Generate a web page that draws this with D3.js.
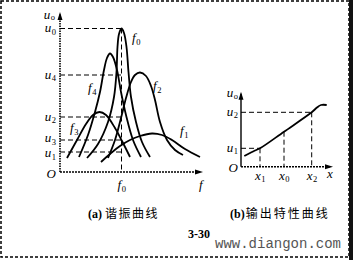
<!DOCTYPE html>
<html>
<head>
<meta charset="utf-8">
<script src="https://cdn.jsdelivr.net/npm/d3@7"></script>
<style>
body { margin:0; background:#fff; }
svg { display:block; }
.lab { font-family:"Liberation Serif", serif; font-style:italic; font-size:13px; }
.sub { font-style:normal; font-size:8.5px; }
</style>
</head>
<body>
<div id="chart"></div>
<script>
//data (units: left chart f / u, right chart x / u)
var uLevelsA = [{name:"0", v:143.5}, {name:"4", v:97}, {name:"2", v:55}, {name:"3", v:32}, {name:"1", v:20}];
var f0Pos = 61.5;
var curveF0 = [[27,14],[38,28],[48,50],[54,75],[56.5,100],[57.5,125],[59,138],[61.5,143.5],[64,139],[66.5,125],[68.5,100],[71,75],[76,50],[82,30],[90,15]];
var curveF4 = [[19,15],[28,37],[35,60],[40,80],[44,102],[47,114],[50,118.5],[53,115],[57,102],[61,80],[66,57],[73,32],[81,15]];
var curveF3 = [[7,14],[17,32],[26,48],[33,57],[39.5,60],[46,57],[55,44],[62,31],[70,15]];
var curveF2 = [[48,14],[55,32],[61,54],[66,74],[71,90],[75,97],[80,99.5],[86,96],[91,86],[95,72],[100,50],[107,32],[115,22],[123,17]];
var curveF1 = [[41,10],[50,18],[60,26],[70,32],[80,36],[92,38.5],[102,37],[112,32],[125,23],[140,15]];
var curveLabels = [{n:"0", x:72, y:130}, {n:"4", x:28, y:80}, {n:"2", x:93, y:82}, {n:"3", x:10, y:40}, {n:"1", x:120, y:37}];

var xTicksB = [{name:"1", v:19}, {name:"0", v:43}, {name:"2", v:70.7}];
var uLevelsB = [{name:"2", v:54.4}, {name:"1", v:18.4}];
var curveOut = [[3.3,10.7],[9,13.7],[14,16.2],[19,18.4],[43,35],[70.7,54.4],[76,59.2],[80,61.7],[85.7,61.7]];

var W = 353, H = 260;
var svg = d3.select("#chart").append("svg").attr("width", W).attr("height", H);

//frame
svg.append("rect").attr("x",1).attr("y",1).attr("width",348).attr("height",256)
    .attr("fill","none").attr("stroke","#000").attr("stroke-width",1.5).attr("stroke-dasharray","3,2");
svg.append("rect").attr("x",349).attr("y",0).attr("width",4).attr("height",H).attr("fill","#111");

//label with subscript
function label(g, x, y, main, sub, anchor, sdy){
    var t = g.append("text").attr("class","lab").attr("x",x).attr("y",y).attr("text-anchor",anchor || "start");
    t.append("tspan").text(main);
    t.append("tspan").attr("class","sub").attr("dx",0.5).attr("dy",sdy == null ? 2.5 : sdy).text(sub);
    return t;
}
function arrowUp(g, x, y){
    g.append("path").attr("d","M"+x+","+y+"l-2.5,8l5,0z").attr("fill","#000");
}
function arrowRight(g, x, y){
    g.append("path").attr("d","M"+x+","+y+"l-8,-2.5l0,5z").attr("fill","#000");
}

// ---------- (a) resonance curves ----------
var xA = d3.scaleLinear().domain([0,143]).range([60,203]);
var yA = d3.scaleLinear().domain([0,160]).range([172,12]);
var gA = svg.append("g");

//dashed guides
gA.selectAll(".hA").data(uLevelsA).enter().append("line")
    .attr("x1", xA(0)).attr("x2", xA(f0Pos))
    .attr("y1", d=>yA(d.v)).attr("y2", d=>yA(d.v))
    .attr("stroke","#000").attr("stroke-width",1).attr("stroke-dasharray","5,3");
gA.append("line").attr("x1", xA(f0Pos)).attr("x2", xA(f0Pos))
    .attr("y1", yA(143.5)).attr("y2", yA(0))
    .attr("stroke","#000").attr("stroke-width",1).attr("stroke-dasharray","5,3");

//axes
gA.append("line").attr("x1",xA(0)).attr("x2",xA(0)).attr("y1",yA(0)).attr("y2",yA(158))
    .attr("stroke","#000").attr("stroke-width",1.6).attr("stroke-dasharray","1.5,1");
gA.append("line").attr("x1",xA(0)).attr("x2",xA(141)).attr("y1",yA(0)).attr("y2",yA(0))
    .attr("stroke","#000").attr("stroke-width",1.4).attr("stroke-dasharray","2,1");
arrowUp(gA, xA(0), yA(160));
arrowRight(gA, xA(143), yA(0));

var lineA = d3.line().x(d=>xA(d[0])).y(d=>yA(d[1])).curve(d3.curveCatmullRom.alpha(0.5));
[curveF0, curveF4, curveF3, curveF2, curveF1].forEach(c => {
    gA.append("path").attr("d", lineA(c)).attr("fill","none").attr("stroke","#000").attr("stroke-width",1.8);
});

//labels (u3 nudged up, u1 nudged down a touch so they do not collide)
var nudge = {"3": -1.5, "1": 1.5};
uLevelsA.forEach(d => label(gA, xA(0)-4, yA(d.v)+3.5+(nudge[d.name]||0), "u", d.name, "end"));
label(gA, xA(0)-5, yA(157)+3.5, "u", "o", "end", 1.5);
gA.append("text").attr("class","lab").attr("x",xA(0)-4).attr("y",yA(0)+6).attr("text-anchor","end").text("O");
label(gA, xA(f0Pos)-4, yA(0)+17, "f", "0");
gA.append("text").attr("class","lab").attr("x",xA(139)).attr("y",yA(0)+17).text("f");
curveLabels.forEach(d => label(gA, xA(d.x), yA(d.y), "f", d.n));

// ---------- (b) output characteristic ----------
var xB = d3.scaleLinear().domain([0,92]).range([241,333]);
var yB = d3.scaleLinear().domain([0,75]).range([166.7,91.7]);
var gB = svg.append("g");

gB.selectAll(".hB").data(uLevelsB).enter().append("line")
    .attr("x1", xB(0)).attr("x2", (d,i)=>xB(xTicksB[i===0 ? 2 : 0].v))
    .attr("y1", d=>yB(d.v)).attr("y2", d=>yB(d.v))
    .attr("stroke","#000").attr("stroke-width",1).attr("stroke-dasharray","5,3");
var vTops = [18.4, 35, 54.4];
gB.selectAll(".vB").data(xTicksB).enter().append("line")
    .attr("x1", d=>xB(d.v)).attr("x2", d=>xB(d.v))
    .attr("y1", (d,i)=>yB(vTops[i])).attr("y2", yB(0))
    .attr("stroke","#000").attr("stroke-width",1).attr("stroke-dasharray","5,3");

gB.append("line").attr("x1",xB(0)).attr("x2",xB(0)).attr("y1",yB(0)).attr("y2",yB(73))
    .attr("stroke","#000").attr("stroke-width",1.4);
gB.append("line").attr("x1",xB(0)).attr("x2",xB(90)).attr("y1",yB(0)).attr("y2",yB(0))
    .attr("stroke","#000").attr("stroke-width",1.4).attr("stroke-dasharray","2,1");
arrowUp(gB, xB(0), yB(75));
arrowRight(gB, xB(92), yB(0));

var lineB = d3.line().x(d=>xB(d[0])).y(d=>yB(d[1])).curve(d3.curveCatmullRom.alpha(0.5));
gB.append("path").attr("d", lineB(curveOut)).attr("fill","none").attr("stroke","#000").attr("stroke-width",1.8);

uLevelsB.forEach(d => label(gB, xB(0)-3, yB(d.v)+3.5, "u", d.name, "end"));
label(gB, xB(0)-3, yB(73)+3.5, "u", "o", "end", 1.5);
gB.append("text").attr("class","lab").attr("x",xB(0)-3).attr("y",yB(0)+5).attr("text-anchor","end").text("O");
xTicksB.forEach(d => label(gB, xB(d.v)-5, yB(0)+13, "x", d.name));
gB.append("text").attr("class","lab").attr("x",xB(86)).attr("y",yB(0)+11).text("x");

// ---------- captions ----------
svg.append("text").attr("x",88).attr("y",218)
    .style("font-family","'Liberation Serif', serif").style("font-size","12px").style("font-weight","bold")
    .text("(a)")
  .append("tspan").attr("dx",3).style("font-family","'Noto Sans CJK SC'").style("font-weight","normal")
    .style("letter-spacing","1.5px").text("谐振曲线");
svg.append("text").attr("x",230).attr("y",218)
    .style("font-family","'Liberation Serif', serif").style("font-size","12px").style("font-weight","bold")
    .text("(b)")
  .append("tspan").attr("dx",1).style("font-family","'Noto Sans CJK SC'").style("font-weight","normal")
    .style("letter-spacing","2px").text("输出特性曲线");
svg.append("text").attr("x",188).attr("y",238)
    .style("font-family","'Liberation Serif', serif").style("font-size","12px").style("font-weight","bold")
    .text("3-30");
svg.append("text").attr("x",215).attr("y",248)
    .style("font-family","'Liberation Mono', monospace").style("font-size","14px").attr("fill","#555")
    .text("www.diangon.com");
</script>
</body>
</html>
